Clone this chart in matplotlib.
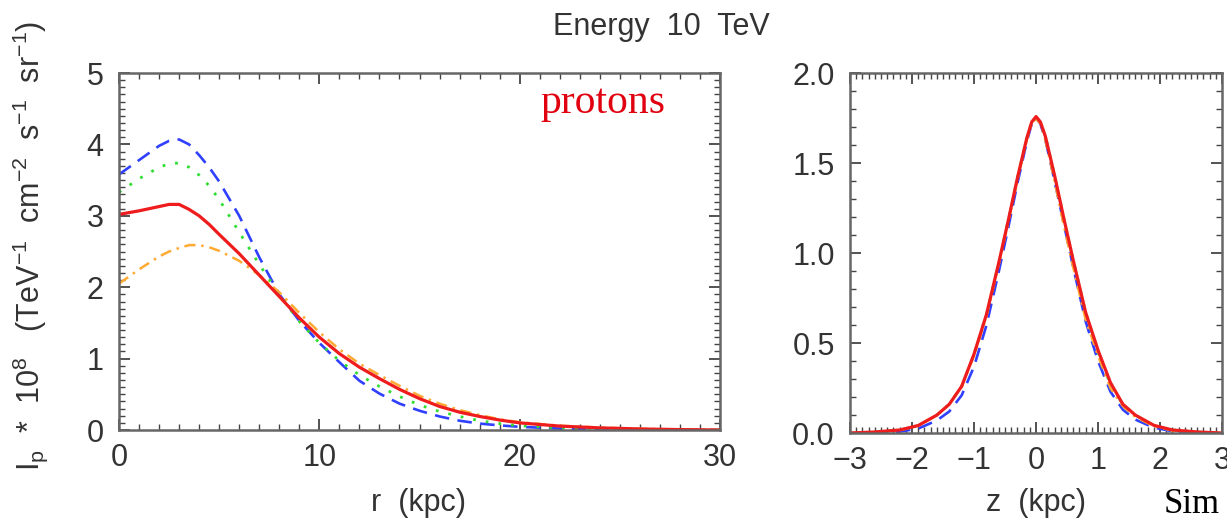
"""
Energy 10 TeV — proton intensity profiles vs galactocentric radius and height.
"""
import numpy as np
import matplotlib.pyplot as plt
from matplotlib.ticker import MultipleLocator

plt.rcParams["font.family"] = ["Liberation Sans", "DejaVu Sans"]
plt.rcParams["mathtext.default"] = "regular"

# ── data: radial profile (left) ─────────────────────────────────────────────
r_kpc = [0, 1, 2, 2.5, 3, 3.5, 4, 4.5, 5, 6, 7, 8, 9, 10, 11, 12, 13, 14, 15,
         16, 17, 18, 19, 20, 22, 24, 26, 28, 30]
r_blue = [3.58, 3.78, 3.98, 4.05, 4.07, 4.00, 3.85, 3.68, 3.48, 3.00, 2.42,
          1.90, 1.53, 1.22, 0.95, 0.69, 0.51, 0.37, 0.27, 0.19, 0.13, 0.09,
          0.065, 0.045, 0.02, 0.01, 0.005, 0.002, 0.0]
r_green = [3.33, 3.52, 3.68, 3.73, 3.74, 3.68, 3.57, 3.42, 3.23, 2.77, 2.32,
           1.90, 1.52, 1.22, 0.97, 0.77, 0.61, 0.47, 0.35, 0.26, 0.19, 0.13,
           0.09, 0.06, 0.03, 0.015, 0.007, 0.003, 0.0]
r_red = [3.02, 3.07, 3.13, 3.16, 3.16, 3.09, 3.00, 2.88, 2.74, 2.47, 2.17,
         1.87, 1.57, 1.30, 1.07, 0.88, 0.72, 0.57, 0.44, 0.33, 0.25, 0.19,
         0.14, 0.10, 0.055, 0.03, 0.015, 0.006, 0.0]
r_orange = [2.05, 2.25, 2.43, 2.50, 2.55, 2.59, 2.59, 2.56, 2.51, 2.37, 2.17,
            1.93, 1.64, 1.37, 1.13, 0.93, 0.77, 0.62, 0.48, 0.37, 0.28, 0.21,
            0.15, 0.11, 0.06, 0.035, 0.018, 0.008, 0.0]

# ── data: vertical profile (right) ──────────────────────────────────────────
z_kpc = [-3.0, -2.6, -2.2, -1.9, -1.6, -1.4, -1.2, -1.0, -0.8, -0.6, -0.45,
         -0.3, -0.15, -0.07, 0.0, 0.07, 0.15, 0.3, 0.45, 0.6, 0.8, 1.0, 1.2,
         1.4, 1.6, 1.9, 2.2, 2.6, 3.0]
z_blue = [0.0, 0.002, 0.008, 0.025, 0.07, 0.12, 0.21, 0.37, 0.60, 0.90, 1.14,
          1.39, 1.62, 1.72, 1.75, 1.72, 1.63, 1.40, 1.16, 0.92, 0.62, 0.40,
          0.23, 0.13, 0.075, 0.03, 0.01, 0.003, 0.0]
z_green = [0.0, 0.006, 0.017, 0.042, 0.10, 0.16, 0.26, 0.44, 0.66, 0.95, 1.18,
           1.42, 1.64, 1.73, 1.75, 1.73, 1.65, 1.43, 1.19, 0.96, 0.67, 0.45,
           0.27, 0.16, 0.10, 0.042, 0.017, 0.006, 0.0]
z_red = [0.0, 0.006, 0.017, 0.042, 0.10, 0.16, 0.26, 0.44, 0.66, 0.95, 1.18,
         1.42, 1.64, 1.73, 1.76, 1.73, 1.65, 1.43, 1.19, 0.96, 0.67, 0.46,
         0.28, 0.16, 0.10, 0.043, 0.017, 0.006, 0.0]
z_orange = [0.0, 0.005, 0.016, 0.040, 0.10, 0.16, 0.26, 0.43, 0.65, 0.94, 1.17,
            1.41, 1.63, 1.72, 1.75, 1.72, 1.63, 1.40, 1.15, 0.92, 0.63, 0.43,
            0.25, 0.15, 0.09, 0.038, 0.014, 0.005, 0.0]

# ── styles ──────────────────────────────────────────────────────────────────
BLUE, GREEN, RED, ORANGE = "#3040ff", "#30dd30", "#ee1c1c", "#ffaa33"
STYLES = [
    (BLUE, dict(lw=1.9, dashes=(5.5, 3.2))),
    (GREEN, dict(lw=2.0, dashes=(1, 3.6))),
    (ORANGE, dict(lw=1.8, dashes=(4.5, 2.3, 1, 2.3))),
    (RED, dict(lw=2.3, ls="-")),
]
TXT = "#333333"
FS = 22


def style_axes(ax, xmaj, xmin, ymaj, ymin):
    for sp in ax.spines.values():
        sp.set_color("#666666")
        sp.set_linewidth(1.8)
    ax.xaxis.set_major_locator(MultipleLocator(xmaj))
    ax.xaxis.set_minor_locator(MultipleLocator(xmin))
    ax.yaxis.set_major_locator(MultipleLocator(ymaj))
    ax.yaxis.set_minor_locator(MultipleLocator(ymin))
    ax.tick_params(which="both", direction="in", top=True, right=True,
                   color="#444444", labelcolor=TXT, labelsize=FS)
    ax.tick_params(which="major", length=8, width=1.3)
    ax.tick_params(which="minor", length=4, width=1.0)
    ax.tick_params(axis="x", pad=9)
    ax.tick_params(axis="y", pad=11)


fig = plt.figure(figsize=(12.27, 5.32), dpi=100)

# --- left: radial ---
ax1 = fig.add_axes([0.0970, 0.1917, 0.4898, 0.671])
for ys, (c, kw) in zip([r_blue, r_green, r_orange, r_red], STYLES):
    ax1.plot(r_kpc, ys, color=c, **kw)
ax1.set_xlim(0, 30)
ax1.set_ylim(0, 5)
style_axes(ax1, 10, 1, 1, 0.1)

# --- right: vertical ---
ax2 = fig.add_axes([0.6928, 0.186, 0.3032, 0.676])
for ys, (c, kw) in zip([z_blue, z_green, z_orange, z_red], STYLES):
    ax2.plot(z_kpc, ys, color=c, **kw)
ax2.set_xlim(-3, 3)
ax2.set_ylim(0, 2)
style_axes(ax2, 1, 0.1, 0.5, 0.1)
ax2.yaxis.set_major_formatter(plt.FormatStrFormatter("%.1f"))

# --- texts ---
fig.text(0.539, 0.949, "Energy  10  TeV", ha="center", va="center",
         fontsize=FS, color=TXT)
fig.text(0.341, 0.0545, "r  (kpc)", ha="center", va="center",
         fontsize=FS, color=TXT)
fig.text(0.844, 0.0545, "z  (kpc)", ha="center", va="center",
         fontsize=FS, color=TXT)
fig.text(0.0245, 0.538,
         r"I$_p$  *  10$^8$   (TeV$^{-1}$  cm$^{-2}$  s$^{-1}$  sr$^{-1}$)",
         rotation=90, ha="center", va="center", fontsize=FS, color=TXT)
fig.text(0.440, 0.788, "protons", ha="left", va="baseline",
         fontsize=30, color="#e00010", family="Liberation Serif")
fig.text(0.948, 0.036, "Sim", ha="left", va="baseline",
         fontsize=25, color="black", family="Liberation Serif")

fig.savefig("out.png", dpi=100)
